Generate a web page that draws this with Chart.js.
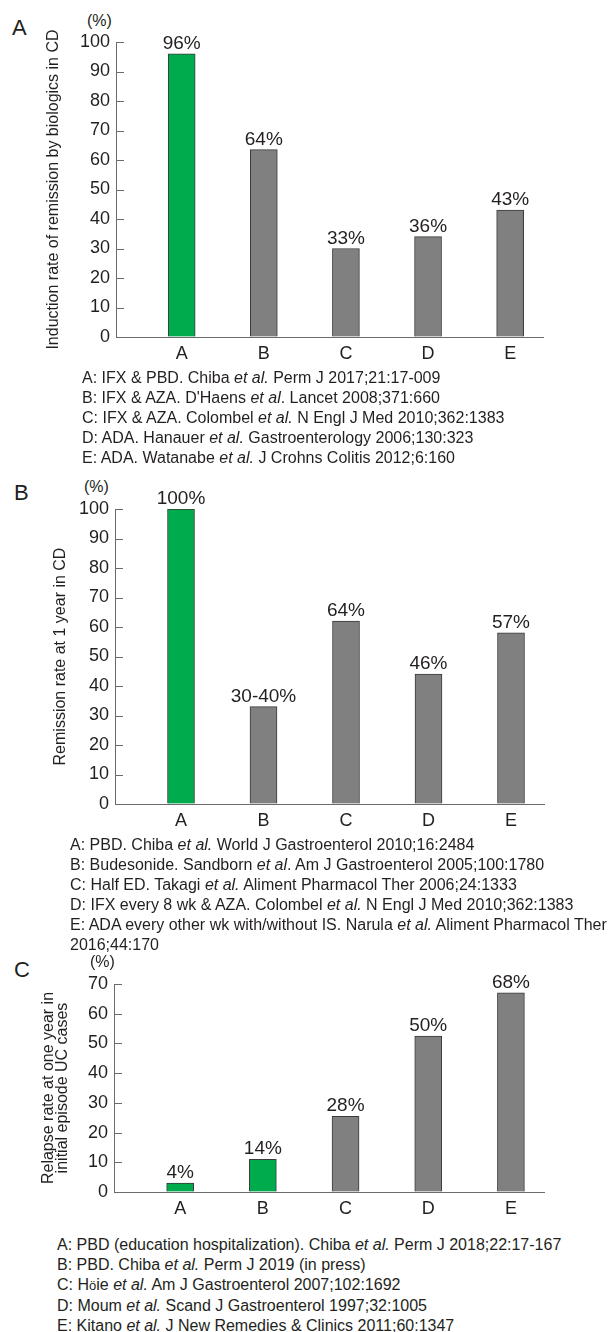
<!DOCTYPE html>
<html lang="en">
<head>
<meta charset="UTF-8">
<title>Remission and relapse rates</title>
<script src="https://cdn.jsdelivr.net/npm/chart.js"></script>
<style>
  body {
    margin: 0;
    width: 614px;
    height: 1332px;
    position: relative;
    overflow: hidden;
    background: #fff;
    font-family: "Liberation Sans", Arial, Helvetica, sans-serif;
    color: #231f20;
  }
  canvas { position: absolute; left: 0; }
  .panel { position: absolute; font-size: 22px; line-height: 22px; }
  .unit { position: absolute; font-size: 16px; line-height: 16px; }
  .refs { position: absolute; font-size: 16px; line-height: 20px; white-space: nowrap; }
</style>
</head>
<body>

<div class="panel" style="left:12px;top:17px">A</div>
<div class="unit" style="left:87px;top:13px">(%)</div>
<canvas id="chartA" width="614" height="370" style="top:0px"></canvas>
<div class="refs" style="left:82px;top:368px">
  A: IFX &amp; PBD. Chiba <i>et al.</i> Perm J 2017;21:17-009<br>
  B: IFX &amp; AZA. D'Haens <i>et al</i>. Lancet 2008;371:660<br>
  C: IFX &amp; AZA. Colombel <i>et al.</i> N Engl J Med 2010;362:1383<br>
  D: ADA. Hanauer <i>et al.</i> Gastroenterology 2006;130:323<br>
  E: ADA. Watanabe <i>et al.</i> J Crohns Colitis 2012;6:160
</div>

<div class="panel" style="left:14px;top:482px">B</div>
<div class="unit" style="left:84px;top:479px">(%)</div>
<canvas id="chartB" width="614" height="367" style="top:470px"></canvas>
<div class="refs" style="left:70px;top:835px">
  A: PBD. Chiba <i>et al.</i> World J Gastroenterol 2010;16:2484<br>
  B: Budesonide. Sandborn <i>et al</i>. Am J Gastroenterol 2005;100:1780<br>
  C: Half ED. Takagi <i>et al.</i> Aliment Pharmacol Ther 2006;24:1333<br>
  D: IFX every 8 wk &amp; AZA. Colombel <i>et al.</i> N Engl J Med 2010;362:1383<br>
  E: ADA every other wk with/without IS. Narula <i>et al.</i> Aliment Pharmacol Ther<br>
  2016;44:170
</div>

<div class="panel" style="left:14px;top:959px">C</div>
<div class="unit" style="left:90px;top:954px">(%)</div>
<canvas id="chartC" width="614" height="275" style="top:950px"></canvas>
<div class="refs" style="left:57px;top:1235px">
  A: PBD (education hospitalization). Chiba <i>et al.</i> Perm J 2018;22:17-167<br>
  B: PBD. Chiba <i>et al.</i> Perm J 2019 (in press)<br>
  C: H<span style="font-size:13px">ö</span>ie <i>et al.</i> Am J Gastroenterol 2007;102:1692<br>
  D: Moum <i>et al.</i> Scand J Gastroenterol 1997;32:1005<br>
  E: Kitano <i>et al.</i> J New Remedies &amp; Clinics 2011;60:1347
</div>

<script>
// data
const categories = ['A', 'B', 'C', 'D', 'E'];

const valuesA = [96, 63.5, 30, 34, 43];
const labelsA = ['96%', '64%', '33%', '36%', '43%'];
const colorsA = ['green', 'gray', 'gray', 'gray', 'gray'];

const valuesB = [100, 33, 62, 44, 58];
const labelsB = ['100%', '30-40%', '64%', '46%', '57%'];
const colorsB = ['green', 'gray', 'gray', 'gray', 'gray'];

const valuesC = [3, 11, 25.5, 52.5, 67];
const labelsC = ['4%', '14%', '28%', '50%', '68%'];
const colorsC = ['green', 'green', 'gray', 'gray', 'gray'];

const FONT = '"Liberation Sans", Arial, Helvetica, sans-serif';
const TEXT = '#231f20';
const AXIS = '#6b6b6b';
const FILL = { green: '#00ab4e', gray: '#808080' };

// inner tick marks on the y axis + value labels above the bars
const barText = {
  id: 'barText',
  afterDraw(chart, args, opts) {
    const ctx = chart.ctx;
    const y = chart.scales.y;
    const area = chart.chartArea;
    ctx.save();
    ctx.strokeStyle = AXIS;
    ctx.lineWidth = 1;
    y.ticks.forEach(t => {
      const py = Math.round(y.getPixelForValue(t.value)) + 0.5;
      ctx.beginPath();
      ctx.moveTo(area.left, py);
      ctx.lineTo(area.left + 8, py);
      ctx.stroke();
    });
    ctx.fillStyle = TEXT;
    ctx.font = '19px ' + FONT;
    ctx.textAlign = 'center';
    ctx.textBaseline = 'alphabetic';
    chart.getDatasetMeta(0).data.forEach((bar, i) => {
      ctx.fillText(opts.labels[i], bar.x, bar.y - 5);
    });
    ctx.restore();
  }
};

function makeChart(id, values, labels, colors, yMax, yTitle, g) {
  const ctx = document.getElementById(id).getContext('2d');
  return new Chart(ctx, {
    type: 'bar',
    data: {
      datasets: [{
        data: values.map((v, i) => ({ x: i, y: v })),
        backgroundColor: colors.map(c => FILL[c]),
        borderColor: '#3a3a3a',
        borderWidth: 1,
        borderSkipped: 'bottom',
        barThickness: 27
      }]
    },
    options: {
      responsive: false,
      animation: false,
      layout: { padding: { top: g.top, right: g.right, bottom: 0, left: 0 } },
      plugins: {
        legend: { display: false },
        tooltip: { enabled: false },
        barText: { labels: labels }
      },
      scales: {
        x: {
          type: 'linear',
          min: -0.8,
          max: 4.4,
          offset: false,
          afterBuildTicks: s => { s.ticks = categories.map((c, i) => ({ value: i })); },
          afterFit: s => { s.height = g.xh; },
          grid: { drawOnChartArea: false, drawTicks: false },
          border: { display: true, color: AXIS, width: 1 },
          ticks: {
            autoSkip: false,
            maxRotation: 0,
            padding: 6,
            color: TEXT,
            font: { family: FONT, size: 18 },
            callback: v => categories[v]
          }
        },
        y: {
          min: 0,
          max: yMax,
          afterFit: s => { s.width = g.left; },
          grid: { drawOnChartArea: false, drawTicks: false },
          border: { display: true, color: AXIS, width: 1 },
          ticks: {
            stepSize: 10,
            autoSkip: false,
            padding: 6,
            color: TEXT,
            font: { family: FONT, size: 18 }
          },
          title: {
            display: true,
            text: yTitle,
            color: TEXT,
            font: { family: FONT, size: 16, lineHeight: g.lh },
            padding: { top: g.tp, bottom: 0 }
          }
        }
      }
    },
    plugins: [barText]
  });
}

makeChart('chartA', valuesA, labelsA, colorsA, 100,
  'Induction rate of remission by biologics in CD',
  { top: 42, right: 71, left: 116, xh: 33, lh: 1.2, tp: 44 });

makeChart('chartB', valuesB, labelsB, colorsB, 100,
  'Remission rate at 1 year in CD',
  { top: 39, right: 70, left: 115, xh: 33, lh: 1.2, tp: 51 });

makeChart('chartC', valuesC, labelsC, colorsC, 70,
  ['Relapse rate at one year in', 'initial episode UC cases'],
  { top: 34, right: 70, left: 114, xh: 33, lh: 0.875, tp: 42 });
</script>
</body>
</html>
